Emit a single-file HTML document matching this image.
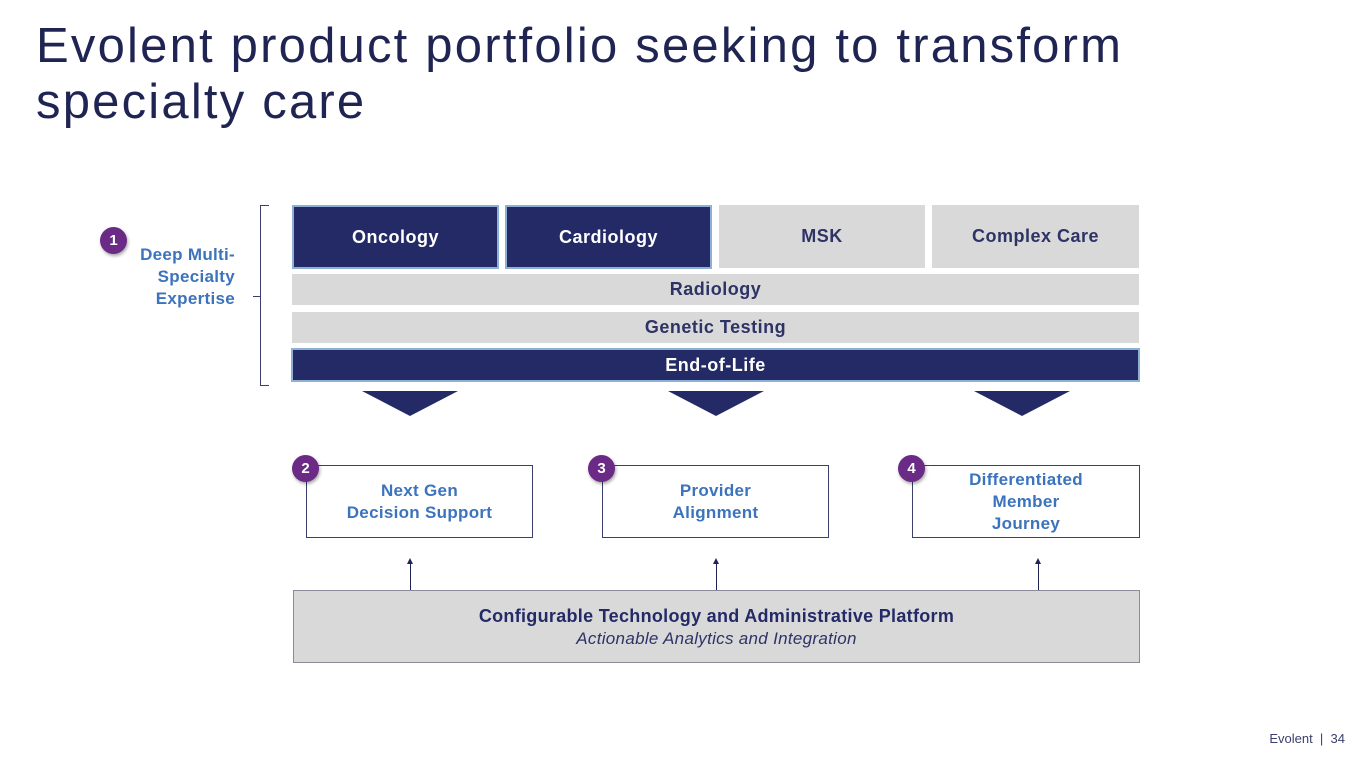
<!DOCTYPE html>
<html><head><meta charset="utf-8"><style>
body{margin:0;width:1365px;height:768px;background:#fff;position:relative;overflow:hidden;font-family:"Liberation Sans",sans-serif}
.a{position:absolute;box-sizing:border-box}
.t{display:flex;align-items:center;justify-content:center;text-align:center;font-weight:bold;font-size:18px;letter-spacing:0.5px}
.n{background:#232a66;color:#fff;border:2px solid #8fb0d6}
.g{background:#d9d9d9;color:#2e3366}
.b{background:#fff;border:1px solid #3a3f6e;color:#3b73bd;font-size:17px;line-height:22px}
.c{width:27px;height:27px;border-radius:50%;background:#6b2a85;color:#fff;font-weight:bold;font-size:15px;display:flex;align-items:center;justify-content:center;box-shadow:1px 2px 3px rgba(0,0,0,.35)}
.ar{width:1px;background:#1f2452}
.ar:before{content:"";position:absolute;left:-3px;top:-4px;border-left:3.5px solid transparent;border-right:3.5px solid transparent;border-bottom:6px solid #1f2452}
</style></head><body>
<div class="a" style="left:36px;top:18px;font-size:49px;line-height:56px;color:#1f2452;letter-spacing:2.2px;white-space:nowrap">Evolent product portfolio seeking to transform<br>specialty care</div>

<div class="a c" style="left:100px;top:227px">1</div>
<div class="a" style="left:110px;top:244px;width:125px;text-align:right;color:#3b73bd;font-weight:bold;font-size:17px;line-height:22px;letter-spacing:0.3px">Deep Multi-<br>Specialty<br>Expertise</div>
<div class="a" style="left:260px;top:205px;width:9px;height:181px;border:1px solid #3a3f6e;border-right:none"></div>
<div class="a" style="left:253px;top:296px;width:8px;height:1px;background:#3a3f6e"></div>

<div class="a t n" style="left:292px;top:205px;width:207px;height:64px">Oncology</div>
<div class="a t n" style="left:505px;top:205px;width:207px;height:64px">Cardiology</div>
<div class="a t g" style="left:719px;top:205px;width:206px;height:63px">MSK</div>
<div class="a t g" style="left:932px;top:205px;width:207px;height:63px">Complex Care</div>
<div class="a t g" style="left:292px;top:274px;width:847px;height:31px">Radiology</div>
<div class="a t g" style="left:292px;top:312px;width:847px;height:31px">Genetic Testing</div>
<div class="a t n" style="left:291px;top:348px;width:849px;height:34px">End-of-Life</div>

<svg class="a" style="left:0;top:0" width="1365" height="768">
<polygon points="362,391 458,391 410,416" fill="#232a66"/>
<polygon points="668,391 764,391 716,416" fill="#232a66"/>
<polygon points="974,391 1070,391 1022,416" fill="#232a66"/>
</svg>

<div class="a t b" style="left:306px;top:465px;width:227px;height:73px;letter-spacing:0.3px">Next Gen<br>Decision Support</div>
<div class="a t b" style="left:602px;top:465px;width:227px;height:73px;letter-spacing:0.3px">Provider<br>Alignment</div>
<div class="a t b" style="left:912px;top:465px;width:228px;height:73px;letter-spacing:0.3px">Differentiated<br>Member<br>Journey</div>
<div class="a c" style="left:292px;top:455px">2</div>
<div class="a c" style="left:588px;top:455px">3</div>
<div class="a c" style="left:898px;top:455px">4</div>

<div class="a ar" style="left:410px;top:562px;height:28px"></div>
<div class="a ar" style="left:716px;top:562px;height:28px"></div>
<div class="a ar" style="left:1038px;top:562px;height:28px"></div>

<div class="a" style="left:293px;top:590px;width:847px;height:73px;background:#d9d9d9;border:1px solid #8a8a9a;text-align:center;padding-top:14px">
<div style="font-weight:bold;font-size:18px;color:#232a66;line-height:22px;letter-spacing:0.3px">Configurable Technology and Administrative Platform</div>
<div style="font-style:italic;font-size:17px;color:#2e3366;line-height:24px;letter-spacing:0.3px">Actionable Analytics and Integration</div>
</div>

<div class="a" style="left:1200px;top:731px;width:145px;text-align:right;font-size:13px;color:#3a3f6e">Evolent &nbsp;|&nbsp; 34</div>
</body></html>
